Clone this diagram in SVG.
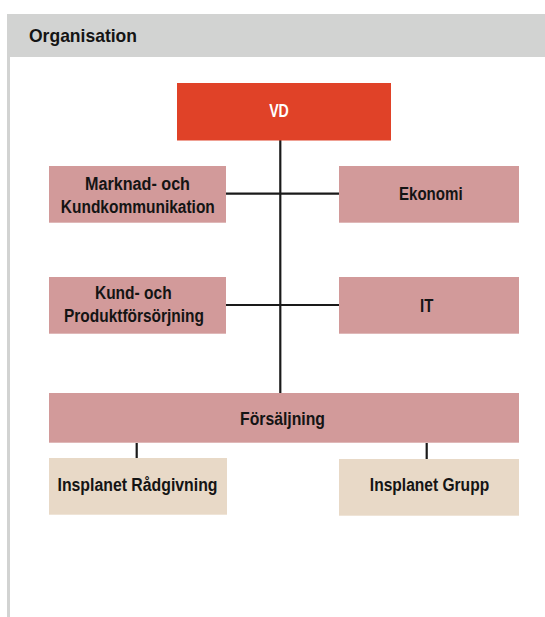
<svg xmlns="http://www.w3.org/2000/svg" width="545" height="617" viewBox="0 0 545 617">
<style>
.t{font-family:"Liberation Sans",Arial,sans-serif;font-weight:bold;font-size:18px;fill:#141414;text-anchor:middle}
.w{fill:#ffffff}
.pink{fill:#D29A9A}
.beige{fill:#E8D9C7}
.ln{stroke:#1a1a1a;stroke-width:2.2;fill:none}
</style>
<rect x="0" y="0" width="545" height="617" fill="#ffffff"/>
<g id="header">
<rect x="7" y="14" width="538" height="43" fill="#D2D3D2"/>
<rect x="7" y="14" width="3" height="603" fill="#D2D3D2"/>
<text x="29" y="41.7" class="t" style="text-anchor:start;font-size:19px" textLength="108" lengthAdjust="spacingAndGlyphs">Organisation</text>
</g>
<g id="connectors">
<line class="ln" x1="280.3" y1="140" x2="280.3" y2="393"/>
<line class="ln" x1="226" y1="193.7" x2="339" y2="193.7"/>
<line class="ln" x1="226" y1="305" x2="339" y2="305"/>
<line class="ln" x1="136.7" y1="443" x2="136.7" y2="458"/>
<line class="ln" x1="426.7" y1="443" x2="426.7" y2="459"/>
</g>
<g id="vd">
<rect x="177" y="83" width="214" height="57.5" fill="#E04228"/>
<text x="279" y="117.3" class="t w" textLength="19.7" lengthAdjust="spacingAndGlyphs">VD</text>
</g>
<g id="marknad">
<rect class="pink" x="49" y="166" width="177" height="56.7"/>
<text x="137.5" y="190" class="t" textLength="105" lengthAdjust="spacingAndGlyphs">Marknad- och</text>
<text x="137.8" y="213.3" class="t" textLength="154" lengthAdjust="spacingAndGlyphs">Kundkommunikation</text>
</g>
<g id="ekonomi">
<rect class="pink" x="339" y="166" width="180" height="56.7"/>
<text x="430.8" y="199.8" class="t" textLength="63.7" lengthAdjust="spacingAndGlyphs">Ekonomi</text>
</g>
<g id="kund">
<rect class="pink" x="49" y="277" width="177" height="56.7"/>
<text x="133.3" y="299" class="t" textLength="76.7" lengthAdjust="spacingAndGlyphs">Kund- och</text>
<text x="134" y="321.7" class="t" textLength="140" lengthAdjust="spacingAndGlyphs">Produktförsörjning</text>
</g>
<g id="it">
<rect class="pink" x="339" y="277" width="180" height="56.7"/>
<text x="426.7" y="312.3" class="t" textLength="13.3" lengthAdjust="spacingAndGlyphs">IT</text>
</g>
<g id="forsaljning">
<rect class="pink" x="49" y="393" width="470" height="49.7"/>
<text x="282.5" y="425" class="t" textLength="85" lengthAdjust="spacingAndGlyphs">Försäljning</text>
</g>
<g id="radgivning">
<rect class="beige" x="49" y="458" width="178" height="56.7"/>
<text x="137.5" y="491" class="t" textLength="160" lengthAdjust="spacingAndGlyphs">Insplanet Rådgivning</text>
</g>
<g id="grupp">
<rect class="beige" x="339" y="459" width="180" height="56.7"/>
<text x="429.5" y="491" class="t" textLength="119.3" lengthAdjust="spacingAndGlyphs">Insplanet Grupp</text>
</g>
</svg>
